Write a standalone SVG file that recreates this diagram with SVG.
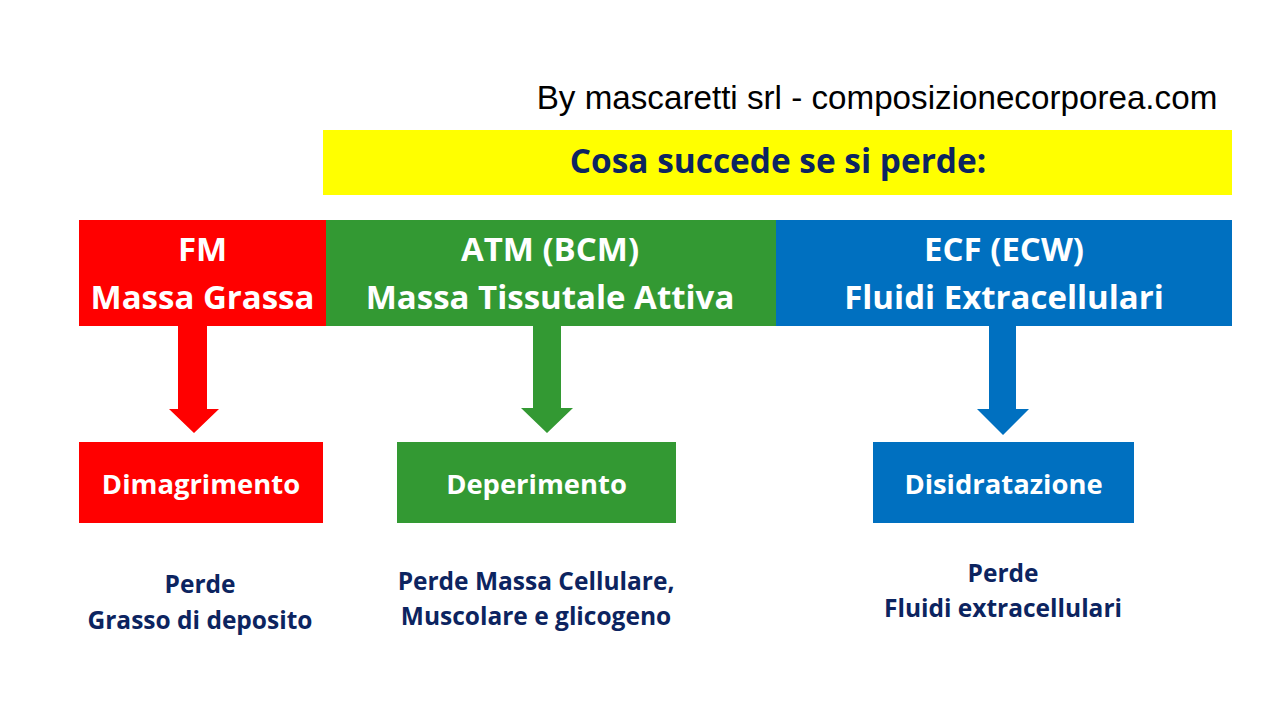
<svg xmlns="http://www.w3.org/2000/svg" width="1280" height="720" viewBox="0 0 1280 720">
<style>
.hdr{font-family:"Open Sans","DejaVu Sans",sans-serif;font-weight:bold;font-size:33px;fill:#ffffff;text-anchor:middle}
.res{font-family:"Open Sans","DejaVu Sans",sans-serif;font-weight:bold;font-size:27.4px;fill:#ffffff;text-anchor:middle}
.note{font-family:"Open Sans","DejaVu Sans",sans-serif;font-weight:bold;font-size:24.5px;fill:#0c2460;text-anchor:middle}
.title{font-family:"Open Sans","DejaVu Sans",sans-serif;font-weight:bold;font-size:33.4px;fill:#0c2460;text-anchor:middle}
.credit{font-family:"Liberation Sans",Arial,sans-serif;font-size:33.2px;fill:#000000;text-anchor:middle}
</style>
<rect width="1280" height="720" fill="#ffffff"/>
<text class="credit" x="877" y="109">By mascaretti srl - composizionecorporea.com</text>
<g id="title">
<rect x="323" y="130" width="909" height="65" fill="#ffff00"/>
<text class="title" x="778" y="173">Cosa succede se si perde:</text>
</g>
<g id="fm">
<rect x="79" y="220" width="247" height="106" fill="#ff0000"/>
<text class="hdr" x="202.5" y="261">FM</text>
<text class="hdr" x="202.5" y="309">Massa Grassa</text>
</g>
<g id="atm">
<rect x="326" y="220" width="450" height="106" fill="#339933"/>
<text class="hdr" x="550" y="261">ATM (BCM)</text>
<text class="hdr" x="550" y="309">Massa Tissutale Attiva</text>
</g>
<g id="ecf">
<rect x="776" y="220" width="456" height="106" fill="#0070c0"/>
<text class="hdr" x="1004" y="261">ECF (ECW)</text>
<text class="hdr" x="1004" y="309">Fluidi Extracellulari</text>
</g>
<g id="connectors">
<polygon points="178,326 207,326 207,409 219,409 194,433 169,409 178,409" fill="#ff0000"/>
<polygon points="533,326 561,326 561,408 573,408 547,433 521,408 533,408" fill="#339933"/>
<polygon points="989,326 1016,326 1016,409 1029,409 1003,435 977,409 989,409" fill="#0070c0"/>
</g>
<g id="dimagrimento">
<rect x="79" y="442" width="244" height="81" fill="#ff0000"/>
<text class="res" x="201" y="494">Dimagrimento</text>
</g>
<g id="deperimento">
<rect x="397" y="442" width="279" height="81" fill="#339933"/>
<text class="res" x="536.5" y="494">Deperimento</text>
</g>
<g id="disidratazione">
<rect x="873" y="442" width="261" height="81" fill="#0070c0"/>
<text class="res" x="1003.5" y="494">Disidratazione</text>
</g>
<g id="note-fm">
<text class="note" x="200" y="593">Perde</text>
<text class="note" x="200" y="629">Grasso di deposito</text>
</g>
<g id="note-atm">
<text class="note" x="536" y="590">Perde Massa Cellulare,</text>
<text class="note" x="536" y="625">Muscolare e glicogeno</text>
</g>
<g id="note-ecf">
<text class="note" x="1003" y="582">Perde</text>
<text class="note" x="1003" y="617">Fluidi extracellulari</text>
</g>
</svg>
